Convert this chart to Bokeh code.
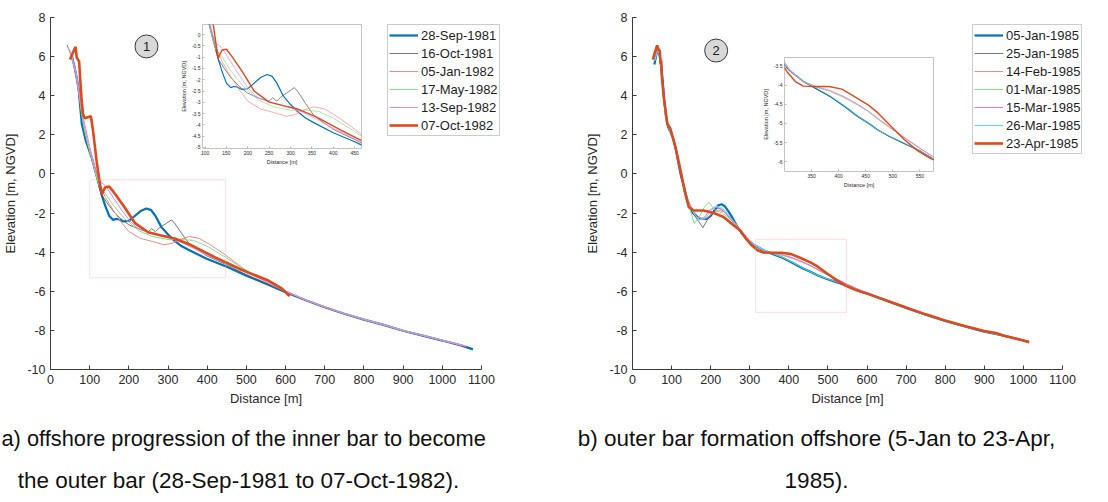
from bokeh.plotting import figure
from bokeh.models import FixedTicker, Legend, LegendItem, BoxAnnotation, Label
from bokeh.core.properties import value
from bokeh.embed import file_html
from bokeh.resources import INLINE

# ---------------- shared axis ticks ----------------
X_TICKS = [0, 100, 200, 300, 400, 500, 600, 700, 800, 900, 1000, 1100]
X_TICK_LABELS = ["0", "100", "200", "300", "400", "500", "600", "700", "800", "900", "1000", "1100"]
Y_TICKS = [-10, -8, -6, -4, -2, 0, 2, 4, 6, 8]
Y_TICK_LABELS = ["-10", "-8", "-6", "-4", "-2", "0", "2", "4", "6", "8"]

# ---------------- panel (a): 1981-1982 profiles ----------------
A_NAMES = ["28-Sep-1981", "16-Oct-1981", "05-Jan-1982", "17-May-1982", "13-Sep-1982", "07-Oct-1982"]

A_SEP81_X = [55, 62, 68, 72, 76, 80, 90, 105, 118, 126, 131, 140, 150, 160, 168, 176, 186, 200, 215, 230,
             245, 257, 268, 283, 300, 317, 335, 352, 400, 450, 500, 550, 600, 650, 700, 750, 800, 850, 900, 950,
             1000, 1050, 1078]
A_SEP81_Y = [6.0, 5.4, 4.8, 4.3, 3.4, 2.55, 1.7, 0.85, -0.1, -0.7, -1.1, -1.65, -2.15, -2.35, -2.3, -2.33, -2.43, -2.4, -2.15, -1.9,
             -1.77, -1.85, -2.15, -2.72, -3.1, -3.42, -3.7, -3.88, -4.35, -4.75, -5.2, -5.62, -6.05, -6.45, -6.82, -7.15, -7.45, -7.72, -8.02, -8.27,
             -8.52, -8.78, -8.97]

A_OCT81_X = [42, 50, 57, 63, 68, 73, 78, 85, 95, 105, 115, 122, 130, 145, 160, 180, 200, 230, 250, 258,
             268, 278, 290, 309, 318, 335, 355, 400, 450, 500, 550, 600, 650, 700, 750, 800, 850, 900, 950, 1000,
             1050, 1065]
A_OCT81_Y = [6.6, 6.25, 5.85, 5.3, 4.7, 4.0, 3.2, 2.4, 1.5, 0.8, 0.0, -0.5, -1.05, -1.5, -1.9, -2.3, -2.6, -2.85, -2.95, -2.8,
             -2.95, -2.75, -2.6, -2.35, -2.55, -3.05, -3.6, -4.2, -4.65, -5.15, -5.6, -6.02, -6.45, -6.82, -7.15, -7.45, -7.72, -8.02, -8.27, -8.52,
             -8.78, -8.85]

A_JAN82_X = [48, 55, 62, 68, 73, 78, 85, 95, 105, 115, 122, 130, 140, 160, 180, 200, 230, 260, 290, 310,
             330, 355, 380, 410, 440, 470, 500, 530, 560, 600, 650, 700, 750, 800, 850, 900, 950, 1000, 1050]
A_JAN82_Y = [6.3, 5.95, 5.45, 4.85, 4.2, 3.4, 2.55, 1.6, 0.9, 0.1, -0.35, -0.75, -1.2, -1.85, -2.45, -2.95, -3.3, -3.45, -3.62, -3.55,
             -3.35, -3.2, -3.3, -3.65, -4.05, -4.5, -4.95, -5.3, -5.62, -6.02, -6.45, -6.82, -7.15, -7.45, -7.72, -8.02, -8.27, -8.52, -8.75]

A_MAY82_X = [45, 52, 58, 64, 69, 74, 79, 86, 96, 106, 116, 125, 140, 160, 190, 225, 260, 300, 335, 365,
             400, 450, 500, 550, 600, 650, 700, 750, 800, 850, 900, 950, 1000, 1050, 1060]
A_MAY82_Y = [6.45, 6.1, 5.7, 5.2, 4.6, 3.9, 3.1, 2.3, 1.45, 0.75, -0.05, -0.65, -1.0, -1.6, -2.3, -2.9, -3.2, -3.35, -3.35, -3.4,
             -3.7, -4.3, -4.95, -5.5, -5.98, -6.43, -6.8, -7.13, -7.43, -7.7, -8.0, -8.25, -8.5, -8.76, -8.8]

A_SEP82_X = [46, 53, 60, 66, 71, 76, 82, 90, 100, 110, 118, 126, 135, 145, 160, 180, 200, 220, 250, 280,
             310, 340, 370, 400, 450, 500, 550, 600, 650, 700, 750, 800, 850, 900, 950, 1000, 1050, 1062]
A_SEP82_Y = [6.4, 6.1, 5.6, 5.0, 4.4, 3.7, 3.0, 2.3, 1.4, 0.6, 0.0, -0.4, -0.5, -0.75, -1.2, -1.8, -2.35, -2.75, -3.0, -3.15,
             -3.3, -3.55, -3.85, -4.15, -4.6, -5.05, -5.5, -5.97, -6.43, -6.8, -7.14, -7.45, -7.72, -8.02, -8.26, -8.52, -8.77, -8.82]

A_OCT82_X = [50, 57, 64, 67, 70, 73, 75, 79, 83, 88, 95, 103, 108, 118, 127, 131, 135, 140, 150, 164,
             189, 215, 249, 283, 317, 360, 419, 488, 556, 590, 610]
A_OCT82_Y = [5.85, 6.2, 6.5, 5.95, 5.85, 5.75, 5.1, 3.9, 3.05, 2.85, 2.9, 2.95, 2.3, 0.6, -0.6, -1.05, -0.85, -0.68, -0.65, -1.0,
             -1.7, -2.5, -2.98, -3.15, -3.3, -3.65, -4.25, -4.9, -5.45, -5.85, -6.25]

# ---------------- panel (b): 1985 profiles ----------------
B_NAMES = ["05-Jan-1985", "25-Jan-1985", "14-Feb-1985", "01-Mar-1985", "15-Mar-1985", "26-Mar-1985", "23-Apr-1985"]

B_JAN05_X = [56, 61, 65, 69, 73, 77, 81, 86, 91, 97, 104, 111, 118, 124, 131, 140, 152, 165, 175, 190,
             200, 210, 220, 228, 236, 245, 256, 268, 280, 295, 310, 335, 360, 385, 410, 435, 455, 473, 492, 520,
             550, 580, 610, 650, 700, 750, 800, 850, 900, 950, 1000, 1012]
B_JAN05_Y = [5.6, 6.1, 6.35, 6.1, 5.6, 4.8, 3.8, 2.9, 2.4, 2.15, 1.8, 1.25, 0.5, -0.1, -0.6, -1.3, -1.95, -2.2, -2.3, -2.3,
             -2.15, -1.85, -1.6, -1.55, -1.65, -1.9, -2.25, -2.7, -3.05, -3.4, -3.62, -3.9, -4.1, -4.3, -4.55, -4.82, -5.0, -5.18, -5.33, -5.52,
             -5.72, -5.98, -6.18, -6.48, -6.85, -7.2, -7.52, -7.8, -8.06, -8.27, -8.52, -8.58]

B_JAN25_X = [58, 63, 67, 71, 75, 79, 84, 89, 95, 102, 110, 118, 125, 132, 145, 158, 170, 180, 190, 201,
             210, 218, 228, 240, 255, 270, 290, 310, 335, 360, 385, 410, 435, 455, 473, 492, 520, 550, 580, 610,
             650, 700, 750, 800, 850, 900, 950, 1000, 1010]
B_JAN25_Y = [5.9, 6.3, 6.2, 5.8, 5.0, 4.0, 3.05, 2.5, 2.25, 1.9, 1.35, 0.6, 0.0, -0.9, -1.6, -2.1, -2.45, -2.75, -2.4, -2.05,
             -1.85, -1.75, -1.8, -2.05, -2.4, -2.8, -3.3, -3.62, -3.9, -4.1, -4.3, -4.53, -4.8, -4.98, -5.17, -5.33, -5.52, -5.72, -5.98, -6.17,
             -6.48, -6.85, -7.2, -7.52, -7.8, -8.06, -8.27, -8.52, -8.56]

B_FEB14_X = [57, 62, 66, 70, 74, 78, 83, 88, 94, 101, 109, 117, 124, 132, 145, 160, 175, 190, 205, 220,
             235, 250, 270, 290, 310, 335, 360, 385, 410, 435, 455, 480, 505, 530, 555, 580, 610, 650, 700, 750,
             800, 850, 900, 950, 1000, 1012]
B_FEB14_Y = [5.8, 6.25, 6.3, 6.0, 5.3, 4.3, 3.2, 2.6, 2.3, 1.95, 1.4, 0.65, 0.05, -0.8, -1.5, -2.0, -2.3, -2.25, -2.0, -1.85,
             -1.95, -2.2, -2.7, -3.2, -3.62, -3.92, -4.05, -4.15, -4.3, -4.5, -4.68, -4.95, -5.2, -5.45, -5.7, -5.92, -6.15, -6.47, -6.84, -7.19,
             -7.51, -7.79, -8.05, -8.26, -8.51, -8.58]

B_MAR01_X = [57, 62, 66, 70, 74, 78, 83, 88, 94, 101, 109, 117, 124, 132, 137, 150, 158, 166, 175, 182,
             188, 196, 205, 215, 230, 250, 270, 290, 310, 335, 360, 385, 410, 435, 455, 480, 505, 530, 555, 580,
             610, 650, 700, 750, 800, 850, 900, 950, 1000, 1010]
B_MAR01_Y = [5.8, 6.2, 6.3, 6.0, 5.3, 4.3, 3.2, 2.6, 2.3, 1.95, 1.4, 0.65, 0.05, -0.7, -1.1, -2.0, -2.55, -2.3, -2.05, -1.75,
             -1.6, -1.45, -1.7, -1.9, -2.0, -2.3, -2.75, -3.2, -3.6, -3.9, -4.05, -4.17, -4.33, -4.52, -4.7, -4.97, -5.22, -5.47, -5.7, -5.93,
             -6.15, -6.47, -6.84, -7.19, -7.51, -7.79, -8.05, -8.26, -8.51, -8.56]

B_MAR15_X = [57, 62, 66, 70, 74, 78, 83, 88, 94, 101, 109, 117, 124, 132, 145, 160, 172, 185, 197, 210,
             222, 235, 250, 270, 290, 310, 335, 360, 385, 410, 435, 455, 480, 505, 530, 555, 580, 610, 650, 700,
             750, 800, 850, 900, 950, 1000, 1010]
B_MAR15_Y = [5.8, 6.2, 6.3, 6.0, 5.3, 4.3, 3.2, 2.6, 2.3, 1.95, 1.4, 0.65, 0.05, -0.8, -1.6, -2.1, -2.35, -2.2, -1.85, -1.7,
             -1.75, -1.95, -2.3, -2.75, -3.2, -3.6, -3.9, -4.04, -4.14, -4.3, -4.5, -4.68, -4.96, -5.21, -5.46, -5.7, -5.93, -6.15, -6.47, -6.84,
             -7.19, -7.51, -7.79, -8.05, -8.26, -8.51, -8.56]

B_MAR26_X = [57, 62, 66, 70, 74, 78, 83, 88, 94, 101, 109, 117, 124, 132, 145, 158, 170, 185, 198, 212,
             225, 238, 252, 268, 290, 310, 335, 360, 385, 410, 435, 455, 473, 492, 520, 550, 580, 610, 650, 700,
             750, 800, 850, 900, 950, 1000, 1010]
B_MAR26_Y = [5.8, 6.2, 6.3, 6.0, 5.3, 4.3, 3.2, 2.6, 2.3, 1.95, 1.4, 0.65, 0.05, -0.75, -1.55, -2.05, -2.35, -2.3, -1.95, -1.65,
             -1.7, -1.9, -2.3, -2.7, -3.3, -3.6, -3.88, -4.08, -4.28, -4.53, -4.8, -5.0, -5.18, -5.32, -5.5, -5.72, -5.98, -6.17, -6.48, -6.85,
             -7.2, -7.52, -7.8, -8.06, -8.27, -8.52, -8.56]

B_APR23_X = [52, 57, 63, 67, 70, 72, 73.5, 75, 80, 89, 97, 110, 123, 135, 144, 157, 182, 208, 233, 259,
             276, 292, 305, 320, 335, 355, 382, 406, 430, 455, 473, 497, 521, 546, 570, 600, 650, 700, 750, 800,
             850, 900, 930, 950, 1000, 1015]
B_APR23_Y = [5.85, 6.2, 6.57, 6.35, 6.3, 5.6, 5.8, 5.0, 3.93, 2.57, 2.31, 1.37, 0.18, -1.01, -1.7, -1.87, -1.87, -2.0, -2.2, -2.63,
             -2.89, -3.35, -3.65, -3.9, -4.02, -4.03, -4.03, -4.1, -4.3, -4.52, -4.73, -5.08, -5.42, -5.72, -5.92, -6.12, -6.47, -6.83, -7.18, -7.5,
             -7.77, -8.03, -8.13, -8.27, -8.52, -8.6]

# ---------------- inset ticks ----------------
INSET_A_XTICKS = [100, 150, 200, 250, 300, 350, 400, 450]
INSET_A_XLABELS = ["100", "150", "200", "250", "300", "350", "400", "450"]
INSET_A_YTICKS = [0, -0.5, -1, -1.5, -2, -2.5, -3, -3.5, -4, -4.5, -5]
INSET_A_YLABELS = ["0", "-0.5", "-1", "-1.5", "-2", "-2.5", "-3", "-3.5", "-4", "-4.5", "-5"]
INSET_B_XTICKS = [350, 400, 450, 500, 550]
INSET_B_XLABELS = ["350", "400", "450", "500", "550"]
INSET_B_YTICKS = [-3.5, -4, -4.5, -5, -5.5, -6]
INSET_B_YLABELS = ["-3.5", "-4", "-4.5", "-5", "-5.5", "-6"]

CAPTION_A = ["a) offshore progression of the inner bar to become",
             "the outer bar (28-Sep-1981 to 07-Oct-1982)."]
CAPTION_B = ["b) outer bar formation offshore (5-Jan to 23-Apr,", "1985)."]

# ---------------- styling ----------------
FONT = "Liberation Sans"
AXIS_COLOR = "#3c3c3c"
TEXT_COLOR = "#2a2a2a"
BLUE, ORANGE = "#0072BD", "#DC4B1C"
A_STYLE = [(BLUE, 2.2), ("#555555", 0.8), ("#F4868A", 1.0), ("#86E086", 1.0), ("#F07CF0", 1.0), (ORANGE, 2.6)]
B_STYLE = [(BLUE, 2.2), ("#555555", 0.8), ("#F4868A", 1.0), ("#86E086", 1.0), ("#F070F0", 1.0),
           ("#55DDE6", 1.0), (ORANGE, 2.6)]

A_SERIES = list(zip(A_NAMES,
                    [A_SEP81_X, A_OCT81_X, A_JAN82_X, A_MAY82_X, A_SEP82_X, A_OCT82_X],
                    [A_SEP81_Y, A_OCT81_Y, A_JAN82_Y, A_MAY82_Y, A_SEP82_Y, A_OCT82_Y]))
B_SERIES = list(zip(B_NAMES,
                    [B_JAN05_X, B_JAN25_X, B_FEB14_X, B_MAR01_X, B_MAR15_X, B_MAR26_X, B_APR23_X],
                    [B_JAN05_Y, B_JAN25_Y, B_FEB14_Y, B_MAR01_Y, B_MAR15_Y, B_MAR26_Y, B_APR23_Y]))


def place(p, left, top):
    p.styles = {"position": "absolute", "left": f"{left}px", "top": f"{top}px"}
    return p


def style_axis(ax, ticks, labels, tick_px, label_px, line_color, tick_len, standoff, label_standoff):
    ax.ticker = FixedTicker(ticks=ticks)
    ax.major_label_overrides = {t: s for t, s in zip(ticks, labels)}
    ax.axis_line_color = line_color
    ax.major_tick_line_color = line_color
    ax.major_tick_in = tick_len
    ax.major_tick_out = 0
    ax.minor_tick_line_color = None
    ax.major_label_text_font = FONT
    ax.major_label_text_font_size = tick_px
    ax.major_label_text_color = TEXT_COLOR
    ax.axis_label_text_font = FONT
    ax.axis_label_text_font_size = label_px
    ax.axis_label_text_font_style = "normal"
    ax.axis_label_text_color = TEXT_COLOR
    ax.major_label_standoff = standoff
    ax.axis_label_standoff = label_standoff


def bare_figure(width, height, x_range=None, y_range=None):
    """Axis-free transparent canvas whose frame fills the whole figure."""
    p = figure(width=width, height=height,
               x_range=x_range or (0, width), y_range=y_range or (0, height),
               output_backend="svg", toolbar_location=None,
               x_axis_location=None, y_axis_location=None, min_border=0)
    p.outline_line_color = None
    p.grid.visible = False
    p.background_fill_color = None
    p.border_fill_color = None
    return p


def main_panel(series, styles, width, border_right, box, tag, tag_xy, left):
    p = figure(width=width, height=502, x_range=(0, 1100), y_range=(-10, 8),
               output_backend="svg", toolbar_location=None,
               min_border_left=50, min_border_right=border_right,
               min_border_top=17, min_border_bottom=133,
               x_axis_label="Distance [m]", y_axis_label="Elevation [m, NGVD]")
    p.outline_line_color = None
    p.grid.visible = False
    p.border_fill_color = None
    style_axis(p.xaxis[0], X_TICKS, X_TICK_LABELS, "12.5px", "13px", AXIS_COLOR, 4, 5, 4)
    style_axis(p.yaxis[0], Y_TICKS, Y_TICK_LABELS, "12.5px", "13px", AXIS_COLOR, 4, 5, 6)

    # zoom window outline
    p.add_layout(BoxAnnotation(left=box[0], right=box[1], bottom=box[2], top=box[3],
                               fill_color=None, line_color="#F2A2A6", line_width=1.2))

    for (name, xs, ys), (color, lw) in zip(series, styles):
        p.line(xs, ys, line_color=color, line_width=lw)

    # circled panel tag
    p.scatter([tag_xy[0]], [tag_xy[1]], size=23, marker="circle",
              fill_color="#D8D8D8", line_color="#3a3a3a", line_width=1)
    p.text([tag_xy[0]], [tag_xy[1]], text=[tag], text_font=value(FONT), text_font_size="13px",
           text_align="center", text_baseline="middle", text_color="#202020")
    return place(p, left, 0)


def legend_box(series, styles, width, height, left, top):
    # the profiles are drawn again here, but the view window sits far away from the
    # data so that only the legend (with its line samples) shows
    p = bare_figure(width, height, x_range=(5000, 5100), y_range=(5000, 5100))
    items = []
    for (name, xs, ys), (color, lw) in zip(series, styles):
        r = p.line(xs, ys, line_color=color, line_width=lw)
        items.append(LegendItem(label=name, renderers=[r]))
    legend = Legend(items=items, location="top_left",
                    label_text_font=FONT, label_text_font_size="13px", label_text_color="#1e1e1e",
                    glyph_width=29, glyph_height=18, label_height=18, label_standoff=3,
                    spacing=0, padding=1, margin=0,
                    border_line_color="#9a9a9a", border_line_width=1,
                    background_fill_color="white", background_fill_alpha=1)
    p.add_layout(legend, "center")
    return place(p, left, top)


def caption_box(lines, width, height, left, top, first_line):
    """first_line: (x, align, font size) for the opening line; later lines are centred."""
    p = bare_figure(width, height)
    for i, line in enumerate(lines):
        if i == 0:
            x, align, size = first_line
        else:
            x, align, size = CAPTION_CENTERS[left], "center", "22.5px"
        p.add_layout(Label(x=x, y=height - 26 - 42 * i, x_units="screen", y_units="screen",
                           text=line, text_align=align, text_baseline="middle",
                           text_font=FONT, text_font_size=size, text_color="#111111"))
    return place(p, left, top)


def inset_panel(series, styles, xr, yr, xt, xl, yt, yl, frame_w, frame_h, left, top):
    bl, br, bt, bb = 22, 3, 2, 18
    p = figure(width=bl + frame_w + br, height=bt + frame_h + bb, x_range=xr, y_range=yr,
               output_backend="svg", toolbar_location=None,
               min_border_left=bl, min_border_right=br, min_border_top=bt, min_border_bottom=bb,
               x_axis_label="Distance [m]", y_axis_label="Elevation [m, NGVD]")
    p.outline_line_color = "#C4C4C4"
    p.grid.visible = False
    style_axis(p.xaxis[0], xt, xl, "5px", "5.5px", "#B8B8B8", 2, 2, 1)
    style_axis(p.yaxis[0], yt, yl, "5px", "5.5px", "#B8B8B8", 2, 2, 2)
    p.xaxis[0].axis_line_color = None
    p.yaxis[0].axis_line_color = None
    for (name, xs, ys), (color, lw) in zip(series, styles):
        p.line(xs, ys, line_color=color, line_width=max(0.7, lw * 0.55))
    return place(p, left - bl, top - bt)


panel_a = main_panel(A_SERIES, A_STYLE, 554, 73, (100, 447, -5.3, -0.3), "1", (245, 6.52), 0)
panel_b = main_panel(B_SERIES, B_STYLE, 526, 46, (315, 547, -7.08, -3.35), "2", (214, 6.31), 582)

inset_a = inset_panel(A_SERIES, A_STYLE, (94, 466), (-5.05, 0.45),
                      INSET_A_XTICKS, INSET_A_XLABELS, INSET_A_YTICKS, INSET_A_YLABELS, 162, 125, 199, 24)
inset_b = inset_panel(B_SERIES, B_STYLE, (300, 575), (-6.26, -3.27),
                      INSET_B_XTICKS, INSET_B_XLABELS, INSET_B_YTICKS, INSET_B_YLABELS, 152, 115, 781, 57)

legend_a = legend_box(A_SERIES, A_STYLE, 125, 120, 387, 24)
legend_b = legend_box(B_SERIES, B_STYLE, 125, 140, 972, 24)

# centre of the continuation lines of each caption, keyed by the caption's left edge
CAPTION_CENTERS = {0: 238, 554: 262}
caption_a = caption_box(CAPTION_A, 554, 90, 0, 412, (1, "left", "21.8px"))
caption_b = caption_box(CAPTION_B, 554, 90, 554, 412, (262, "center", "22.5px"))

roots = [panel_a, panel_b, inset_a, inset_b, legend_a, legend_b, caption_a, caption_b]
open("out.html", "w").write(file_html(roots, INLINE))
